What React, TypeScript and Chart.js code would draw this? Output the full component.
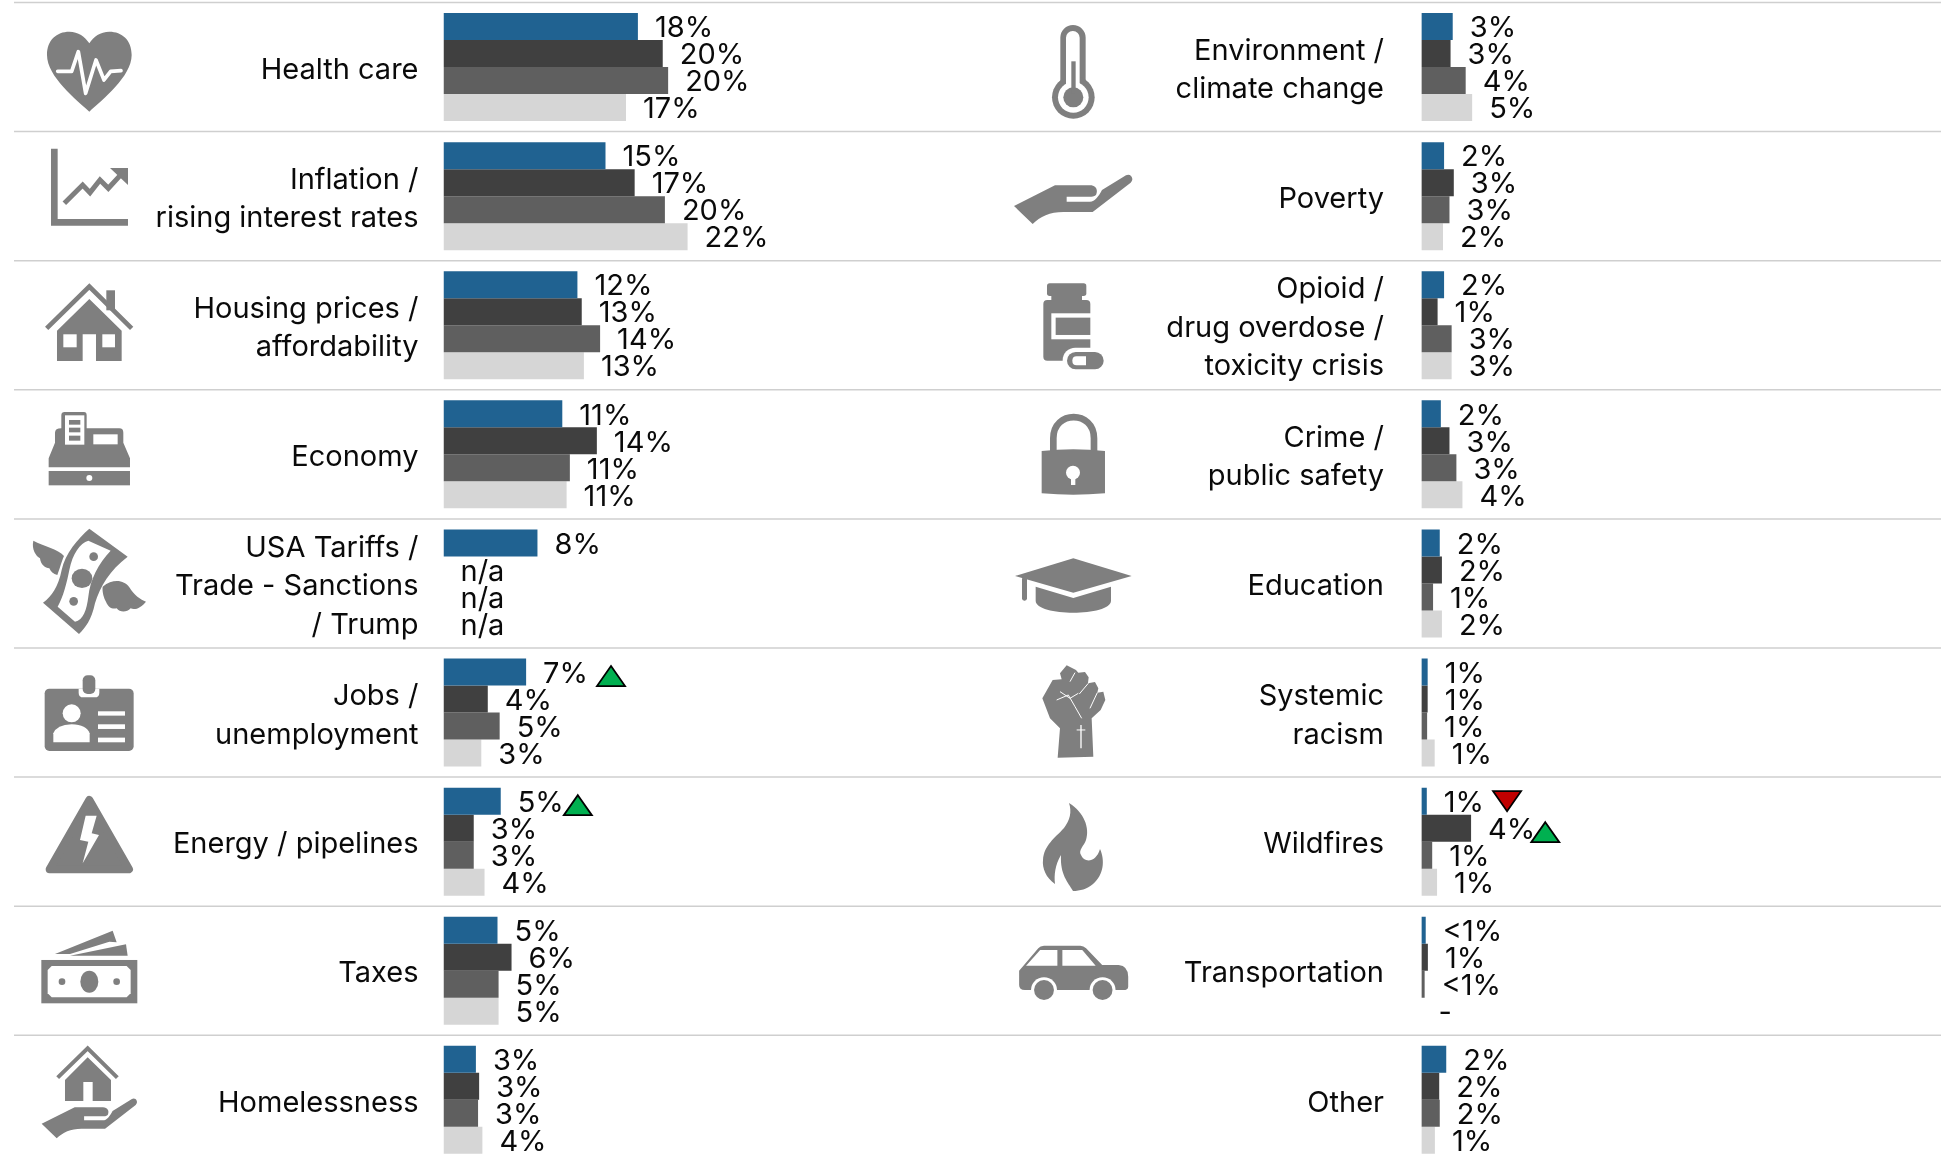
import React, { useEffect, useRef } from "react";
import { Chart, registerables } from "chart.js";

Chart.register(...registerables);

// ---------- data ----------
const leftCategories = [
  ["Health care"],
  ["Inflation /", "rising interest rates"],
  ["Housing prices /", "affordability"],
  ["Economy"],
  ["USA Tariffs /", "Trade - Sanctions", "/ Trump"],
  ["Jobs /", "unemployment"],
  ["Energy / pipelines"],
  ["Taxes"],
  ["Homelessness"],
];
const rightCategories = [
  ["Environment /", "climate change"],
  ["Poverty"],
  ["Opioid /", "drug overdose /", "toxicity crisis"],
  ["Crime /", "public safety"],
  ["Education"],
  ["Systemic", "racism"],
  ["Wildfires"],
  ["Transportation"],
  ["Other"],
];

const leftBlue = [18.0, 15.0, 12.4, 11.0, 8.7, 7.65, 5.3, 5.0, 3.0];
const leftDark = [20.3, 17.7, 12.8, 14.2, 0, 4.1, 2.8, 6.3, 3.3];
const leftMid = [20.8, 20.5, 14.5, 11.7, 0, 5.2, 2.8, 5.1, 3.2];
const leftLight = [16.9, 22.6, 13.0, 11.4, 0, 3.5, 3.8, 5.1, 3.6];

const rightBlue = [2.9, 2.1, 2.1, 1.8, 1.7, 0.58, 0.5, 0.4, 2.3];
const rightDark = [2.7, 3.0, 1.5, 2.6, 1.9, 0.58, 4.6, 0.6, 1.65];
const rightMid = [4.1, 2.6, 2.8, 3.24, 1.08, 0.53, 1.0, 0.3, 1.7];
const rightLight = [4.7, 2.0, 2.8, 3.8, 1.9, 1.23, 1.45, 0, 1.25];

const leftBlueLabels = ["18%", "15%", "12%", "11%", "8%", "7%", "5%", "5%", "3%"];
const leftDarkLabels = ["20%", "17%", "13%", "14%", "n/a", "4%", "3%", "6%", "3%"];
const leftMidLabels = ["20%", "20%", "14%", "11%", "n/a", "5%", "3%", "5%", "3%"];
const leftLightLabels = ["17%", "22%", "13%", "11%", "n/a", "3%", "4%", "5%", "4%"];

const rightBlueLabels = ["3%", "2%", "2%", "2%", "2%", "1%", "1%", "<1%", "2%"];
const rightDarkLabels = ["3%", "3%", "1%", "3%", "2%", "1%", "4%", "1%", "2%"];
const rightMidLabels = ["4%", "3%", "3%", "3%", "1%", "1%", "1%", "<1%", "2%"];
const rightLightLabels = ["5%", "2%", "3%", "4%", "2%", "1%", "1%", "-", "1%"];

// [series index, row index, direction, gap after the label, vertical shift]
const leftMarkers = [
  [0, 5, "up", 9, 4],
  [0, 6, "up", 0, 4],
];
const rightMarkers = [
  [0, 6, "down", 9, 0],
  [1, 6, "up", -4, 4],
];

// ---------- style ----------
const seriesColors = ["#206291", "#404040", "#5F5F5F", "#D6D6D6"];
const FONT = "Inter, 'Noto Sans', sans-serif";
const FONT_SIZE = 29;
const ROW_H = 129.1;
const PX_PER_PCT = 10.8;
const GREY = "#7F7F7F";

function makePlugin(labels: string[][], markers: any[], lineFrom: number) {
  return {
    id: "rowDecor",
    beforeDatasetsDraw(chart: any) {
      const ctx = chart.ctx;
      const y = chart.scales.y;
      ctx.save();
      ctx.strokeStyle = "#CFCFCF";
      ctx.lineWidth = 1.5;
      for (let i = 0; i < 9; i++) {
        const py = y.getPixelForValue(i) - ROW_H / 2;
        ctx.beginPath();
        ctx.moveTo(lineFrom, py);
        ctx.lineTo(chart.width, py);
        ctx.stroke();
      }
      ctx.restore();
    },
    afterDatasetsDraw(chart: any) {
      const ctx = chart.ctx;
      ctx.save();
      ctx.font = `${FONT_SIZE}px ${FONT}`;
      ctx.fillStyle = "#0A0A0A";
      ctx.textBaseline = "middle";
      ctx.textAlign = "left";
      labels.forEach((arr, d) => {
        const meta = chart.getDatasetMeta(d);
        arr.forEach((t, i) => ctx.fillText(t, meta.data[i].x + 17, meta.data[i].y + 2));
      });
      markers.forEach(([d, r, dir, gap, dy]) => {
        const el = chart.getDatasetMeta(d).data[r];
        const w = ctx.measureText(labels[d][r]).width;
        const x0 = el.x + 17 + w + gap;
        const cy = el.y + dy;
        const tw = 28;
        const th = 20;
        ctx.beginPath();
        if (dir === "up") {
          ctx.moveTo(x0 + tw / 2, cy - th / 2);
          ctx.lineTo(x0 + tw, cy + th / 2);
          ctx.lineTo(x0, cy + th / 2);
        } else {
          ctx.moveTo(x0, cy - th / 2);
          ctx.lineTo(x0 + tw, cy - th / 2);
          ctx.lineTo(x0 + tw / 2, cy + th / 2);
        }
        ctx.closePath();
        ctx.fillStyle = dir === "up" ? "#00B050" : "#C00000";
        ctx.fill();
        ctx.lineWidth = 1.8;
        ctx.strokeStyle = "#000";
        ctx.stroke();
        ctx.fillStyle = "#0A0A0A";
      });
      ctx.restore();
    },
  };
}

function makeChart(
  canvas: HTMLCanvasElement,
  categories: string[][],
  series: number[][],
  labels: string[][],
  markers: any[],
  axisWidth: number,
  tickPad: number,
  xMax: number,
  lineFrom: number
) {
  const w = canvas.width;
  return new Chart(canvas, {
    type: "bar",
    data: {
      labels: categories as any,
      datasets: series.map((s, i) => ({
        label: `Series ${i + 1}`,
        data: s,
        backgroundColor: seriesColors[i],
        borderWidth: 0,
        categoryPercentage: 108 / ROW_H,
        barPercentage: 1,
      })),
    },
    options: {
      indexAxis: "y",
      responsive: false,
      animation: false,
      layout: {
        padding: {
          top: 2.5,
          bottom: 1170 - 2.5 - 9 * ROW_H,
          left: 0,
          right: w - axisWidth - xMax * PX_PER_PCT,
        },
      },
      plugins: { legend: { display: false }, tooltip: { enabled: false }, title: { display: false } },
      scales: {
        x: { display: false, min: 0, max: xMax },
        y: {
          afterFit: (s: any) => {
            s.width = axisWidth;
            s.paddingTop = 0;
            s.paddingBottom = 0;
          },
          border: { display: false },
          grid: { display: false, drawTicks: false },
          ticks: {
            autoSkip: false,
            padding: tickPad,
            labelOffset: 3,
            color: "#0A0A0A",
            font: { family: FONT, size: FONT_SIZE, lineHeight: 38.5 / FONT_SIZE },
          },
        },
      },
    },
    plugins: [makePlugin(labels, markers, lineFrom)],
  } as any);
}

// ---------- icons (drawn in crop coordinates, 3x) ----------
const Rr = (x: number, y: number, x2: number, y2: number, r: number, fill = GREY) => (
  <rect x={x} y={y} width={x2 - x} height={y2 - y} rx={r} ry={r} fill={fill} />
);
const handPath =
  "M12 618 L135 556 H240 C258 556 265 570 258 585 C252 590 245 590 240 590 H170 V605 H240 C255 605 265 590 276 570 L348 526 C360 518 375 535 362 548 L248 636 H160 C120 636 90 650 68 672 Z";

function Icons() {
  return (
    <svg width={1941} height={1157} style={{ position: "absolute", left: 0, top: 0 }}>
      <g transform="translate(20,0) scale(0.3333)" fill={GREY}>
        {/* heart */}
        <path d="M208 335 C170 300 81 230 81 165 C81 120 110 95 148 95 C175 95 195 110 208 130 C221 110 241 95 268 95 C306 95 335 120 335 165 C335 230 246 300 208 335 Z" />
        <polyline points="113,214 155,214 175,155 197,280 228,180 252,240 272,214 303,212" fill="none" stroke="#fff" strokeWidth={11} strokeLinejoin="round" strokeLinecap="round" />
        {/* chart */}
        <path d="M93 446 H113 V657 H324 V677 H93 Z" />
        <polyline points="133,610 188,555 210,578 240,540 265,565 300,527" fill="none" stroke={GREY} strokeWidth={15} />
        <polygon points="270,504 324,504 324,555" />
        {/* house */}
        <polyline points="80,985 208,860 335,985" fill="none" stroke={GREY} strokeWidth={14} />
        <rect x={259} y={871} width={26} height={60} />
        <path d="M208 897 L305 992 V1083 H228 V1003 H188 V1083 H111 V992 Z" />
        <rect x={130} y={1003} width={40} height={39} fill="#fff" />
        <rect x={247} y={1003} width={38} height={39} fill="#fff" />
      </g>
      <g transform="translate(20,390) scale(0.3333)" fill={GREY}>
        {/* cash register */}
        <rect x={86} y={243} width={244} height={43} />
        <circle cx={208} cy={264} r={9} fill="#fff" />
        <path d="M124 76 Q124 66 134 66 H192 Q200 66 200 76 V115 H298 Q310 115 310 128 V158 L330 205 V232 H86 V205 L105 158 V128 Q105 115 124 115 Z" />
        <rect x={135} y={76} width={58} height={88} fill="#fff" />
        <rect x={147} y={90} width={34} height={14} />
        <rect x={147} y={113} width={34} height={14} />
        <rect x={147} y={137} width={34} height={15} />
        <rect x={220} y={133} width={73} height={30} fill="#fff" />
        {/* winged money */}
        <path d="M208 416 L323 500 C270 540 240 590 225 640 C215 690 195 715 177 732 L69 638 C95 620 115 590 125 540 C135 490 175 445 208 416 Z" />
        <path d="M205 452 L272 482 C235 520 210 570 205 620 C200 660 190 690 165 695 L113 650 C130 620 140 580 148 540 C158 490 180 460 205 452 Z" fill="#fff" />
        <ellipse cx={186} cy={565} rx={31} ry={29} />
        <circle cx={221} cy={500} r={13} />
        <circle cx={161} cy={634} r={13} />
        <path d="M40 452 C70 468 118 478 132 498 C122 522 120 535 112 555 C100 552 92 545 88 535 C76 534 62 525 60 505 C48 498 34 478 40 452 Z" />
        <path d="M248 590 C280 565 312 570 328 592 C342 615 362 630 378 635 C365 652 345 662 332 655 C320 668 300 668 290 655 C275 658 265 652 258 635 C252 625 246 605 248 590 Z" />
        {/* id badge */}
        {Rr(74, 896, 341, 1083, 14)}
        <path d="M176 896 V908 Q176 922 190 922 H224 Q238 922 238 908 V896 Z" fill="#fff" />
        {Rr(188, 856, 226, 912, 15)}
        <circle cx={155} cy={970} r={27} fill="#fff" />
        <path d="M100 1057 V1030 Q110 1005 155 1003 Q200 1005 209 1030 V1057 Z" fill="#fff" />
        <rect x={234} y={964} width={81} height={13} fill="#fff" />
        <rect x={234} y={1003} width={81} height={14} fill="#fff" />
        <rect x={234} y={1043} width={81} height={14} fill="#fff" />
      </g>
      <g transform="translate(20,780) scale(0.3333)" fill={GREY}>
        {/* energy */}
        <polygon points="208,60 327,268 89,268" stroke={GREY} strokeWidth={24} strokeLinejoin="round" />
        <polygon points="197,107 230,107 215,160 237,165 188,250 205,185 180,180" fill="#fff" />
        {/* taxes */}
        <rect x={64} y={540} width={288} height={130} />
        <polygon points="95,558 320,558 332,570 332,640 320,652 95,652 83,640 83,570" fill="#fff" />
        <ellipse cx={208} cy={605} rx={27} ry={33} />
        <circle cx={126} cy={605} r={10} />
        <circle cx={290} cy={605} r={10} />
        <polygon points="105,522 278,452 290,487 268,485 150,522" />
        <polygon points="150,527 318,493 323,527" />
        {/* homelessness */}
        <polyline points="113,893 203,805 292,893" fill="none" stroke={GREY} strokeWidth={12} />
        <path d="M203 832 L273 900 V963 H218 V906 H190 V963 H135 V900 Z" />
        <path d={handPath} transform="translate(55.3,533.4) scale(0.806)" />
      </g>
      <g transform="translate(1010,0) scale(0.3333)" fill={GREY}>
        {/* thermometer */}
        {Rr(151, 75, 227, 300, 38)}
        <circle cx={190} cy={292} r={64} />
        {Rr(168, 93, 209, 300, 20, "#fff")}
        <circle cx={190} cy={292} r={46} fill="#fff" />
        <circle cx={190} cy={292} r={30} />
        <rect x={184} y={184} width={13} height={96} />
        {/* hand */}
        <path d={handPath} />
        {/* bottle */}
        {Rr(111, 850, 229, 888, 8)}
        <rect x={124} y={885} width={92} height={18} />
        {Rr(100, 900, 241, 1082, 12)}
        <rect x={124} y={940} width={120} height={78} fill="#fff" />
        <rect x={137} y={953} width={104} height={52} />
        {Rr(158, 1043, 295, 1122, 38, "#fff")}
        {Rr(171, 1056, 281, 1108, 26)}
        <path d="M228 1069 H200 Q187 1069 187 1082 Q187 1096 200 1096 H228 Z" fill="#fff" />
      </g>
      <g transform="translate(1010,390) scale(0.3333)" fill={GREY}>
        {/* lock */}
        <path d="M130 185 V145 C130 60 252 60 252 145 V185" fill="none" stroke={GREY} strokeWidth={20} />
        <path d="M95 183 Q190 172 285 183 V310 Q190 318 95 310 Z" />
        <circle cx={189} cy={248} r={21} fill="#fff" />
        <rect x={183} y={255} width={13} height={30} fill="#fff" />
        {/* cap */}
        <polygon points="190,505 365,558 190,608 15,558" />
        {Rr(36, 560, 51, 632, 7)}
        <path d="M77 590 L190 624 L303 590 V632 C303 680 77 680 77 632 Z" />
        {/* fist */}
        <path d="M97 925 L128 870 L155 868 L150 850 L170 826 L198 840 L205 848 L225 846 L236 862 L234 880 L255 876 L265 895 L262 908 L280 905 L286 930 L272 960 L245 985 L250 1100 L143 1103 L150 1015 L120 985 Z" />
        <g fill="none" stroke="#fff" strokeWidth={3}>
          <polyline points="140,930 175,915 195,950 215,985" />
          <polyline points="150,905 180,925 205,910" />
          <line x1={195} y1={848} x2={180} y2={875} />
          <line x1={235} y1={880} x2={208} y2={912} />
          <line x1={262} y1={908} x2={240} y2={955} />
          <line x1={213} y1={1005} x2={213} y2={1075} strokeWidth={4} />
          <line x1={200} y1={1020} x2={226} y2={1020} />
        </g>
      </g>
      {/* flame */}
      <path fill={GREY} d="M1069 803 C1084 812 1090 828 1086 840 C1084 846 1078 850 1081 855 C1084 863 1096 863 1100 849 C1105 860 1104 875 1093 884 C1087 889 1080 891 1073 891 C1068 882 1060 875 1061 855 C1055 865 1054 875 1055 884 C1046 878 1042 868 1043 860 C1044 845 1055 838 1064 828 C1070 820 1072 812 1069 803 Z" />
      {/* car */}
      <g transform="translate(1000,760) scale(0.3827,0.3333)" fill={GREY}>
        <path d="M50 632 L100 565 Q105 557 115 557 H210 Q218 557 225 565 L267 615 H310 Q335 618 335 650 V680 Q335 690 322 690 H65 Q50 690 50 675 Z" />
        <polygon points="68,617 105,570 150,570 150,617" fill="#fff" />
        <polygon points="163,570 215,570 250,617 163,617" fill="#fff" />
        <ellipse cx={115} cy={690} rx={34} ry={38} fill="#fff" />
        <ellipse cx={268} cy={690} rx={34} ry={38} fill="#fff" />
        <ellipse cx={115} cy={690} rx={26} ry={30} />
        <ellipse cx={268} cy={690} rx={26} ry={30} />
      </g>
    </svg>
  );
}

export default function App() {
  const leftRef = useRef<HTMLCanvasElement>(null);
  const rightRef = useRef<HTMLCanvasElement>(null);

  useEffect(() => {
    const a = makeChart(
      leftRef.current!,
      leftCategories,
      [leftBlue, leftDark, leftMid, leftLight],
      [leftBlueLabels, leftDarkLabels, leftMidLabels, leftLightLabels],
      leftMarkers,
      443.5,
      25,
      50,
      14
    );
    const b = makeChart(
      rightRef.current!,
      rightCategories,
      [rightBlue, rightDark, rightMid, rightLight],
      [rightBlueLabels, rightDarkLabels, rightMidLabels, rightLightLabels],
      rightMarkers,
      421.4,
      37.4,
      45,
      0
    );
    return () => {
      a.destroy();
      b.destroy();
    };
  }, []);

  return (
    <div style={{ position: "absolute", left: 0, top: 0, width: 1941, height: 1157, overflow: "hidden", background: "#fff" }}>
      <canvas ref={leftRef} width={1000} height={1170} style={{ position: "absolute", left: 0, top: 0 }} />
      <canvas ref={rightRef} width={941} height={1170} style={{ position: "absolute", left: 1000, top: 0 }} />
      <Icons />
    </div>
  );
}
